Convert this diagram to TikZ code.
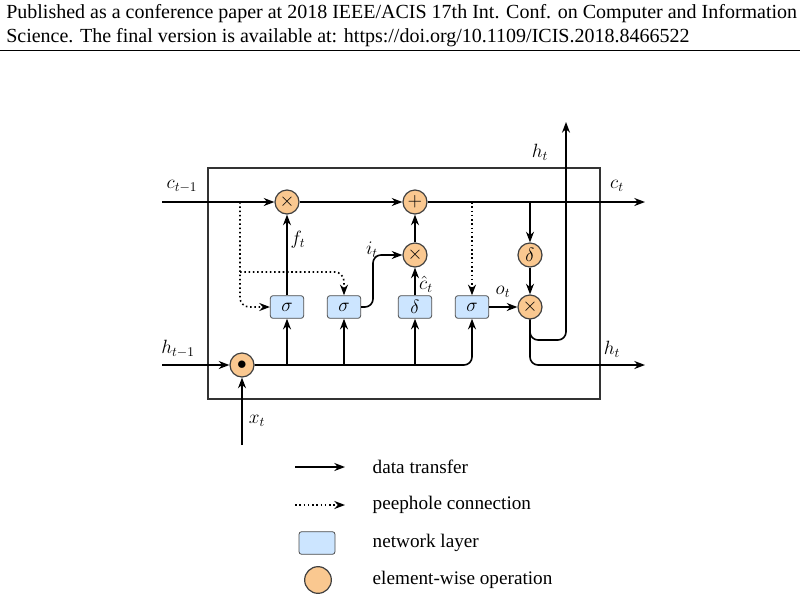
\documentclass[tikz,border=0pt]{standalone}
\usepackage{fontspec}
\setmainfont{Liberation Serif}
\usetikzlibrary{arrows.meta}
\definecolor{opfill}{HTML}{FAC890}
\definecolor{layfill}{HTML}{CCE5FF}
\begin{document}
\begin{tikzpicture}[x=0.75pt,y=-0.75pt,
  op/.style={circle,draw=black!75,fill=opfill,line width=0.9pt,minimum size=18pt,inner sep=0pt,font=\fontsize{15}{15}\selectfont},
  lay/.style={rectangle,rounded corners=2pt,draw=black!70,fill=layfill,line width=0.6pt,minimum width=25pt,minimum height=17pt,inner sep=0pt,font=\fontsize{14}{14}\selectfont},
  dt/.style={line width=1.2pt,-{Stealth[length=8pt,width=6pt]}},
  dtn/.style={line width=1.2pt},
  ph/.style={line width=1.2pt,dotted,-{Stealth[length=8pt,width=6pt,open]}},
  lbl/.style={font=\fontsize{14.4}{16}\selectfont}]
\useasboundingbox (0,0) rectangle (804,601);
\node[anchor=north west,align=left,inner sep=0pt,font=\fontsize{15}{18}\selectfont] (hdr) at (6,4) {Published as a conference paper at 2018 IEEE/ACIS 17th Int. Conf. on Computer and Information\\Science. The final version is available at: https://doi.org/10.1109/ICIS.2018.8466522};
\draw[line width=0.6pt] (0,50) -- (800,50);
\draw[line width=0.8pt,draw=black!80] (208,168) rectangle (600,399);
% nodes
\node[op] (m1) at (287,202) {$\times$};
\node[op] (pl) at (415,202) {$+$};
\node[op] (m2) at (415,255) {$\times$};
\node[op] (dl) at (530,255) {$\delta$};
\node[op] (m3) at (530,307) {$\times$};
\node[op] (dot) at (242,365) {$\bullet$};
\node[lay] (s1) at (287,307) {$\sigma$};
\node[lay] (s2) at (344,307) {$\sigma$};
\node[lay] (d1) at (415,307) {$\delta$};
\node[lay] (s4) at (472,307) {$\sigma$};
\coordinate (cin) at (162,202);
\coordinate (cout) at (645,202);
\coordinate (hin) at (162,365);
\coordinate (hout) at (645,365);
\coordinate (htop) at (566,122);
\coordinate (xin) at (242,445);
% cell line
\draw[dt] (cin) -- (m1);
\draw[dt] (m1) -- (pl);
\draw[dt] (pl) -- (cout);
\draw[dt] (530,202) -- (dl);
\draw[dt] (dl) -- (m3);
\draw[dt] (s1) -- (m1);
\draw[dt] (m2) -- (pl);
\draw[dt] (d1) -- (m2);
\draw[dt,rounded corners=6pt] (s2.east) -- (373,307) -- (373,255) -- (m2.west);
\draw[dt] (s4) -- (m3);
% hidden line
\draw[dt] (hin) -- (dot);
\draw[dt] (xin) -- (dot);
\draw[dtn,rounded corners=6pt] (dot) -- (472,365) -- (472,330);
\draw[dt] (472,335) -- (s4.south);
\draw[dt] (287,365) -- (s1);
\draw[dt] (344,365) -- (s2);
\draw[dt] (415,365) -- (d1);
\draw[dt,rounded corners=6pt] (m3.south) -- (530,365) -- (hout);
\draw[dt,rounded corners=6pt] (m3.south) -- (530,340) -- (566,340) -- (htop);
% peepholes
\draw[ph,rounded corners=7pt] (240,202) -- (240,307) -- (s1.west);
\draw[ph,rounded corners=7pt] (240,272) -- (344,272) -- (s2.north);
\draw[ph] (472,202) -- (s4.north);
% labels
\node[lbl] (lc1) at (182,186) {$c_{t-1}$};
\node[lbl] (lh1) at (178,349) {$h_{t-1}$};
\node[lbl] (lct) at (617,186) {$c_t$};
\node[lbl] (lht) at (612,349) {$h_t$};
\node[lbl] (lhtt) at (540,152) {$h_t$};
\node[lbl] (lf) at (298,240) {$f_t$};
\node[lbl] (li) at (372,250) {$i_t$};
\node[lbl] (lch) at (426,284) {$\hat c_t$};
\node[lbl] (lo) at (503,292) {$o_t$};
\node[lbl] (lx) at (257,421) {$x_t$};
% legend
\coordinate (a1) at (295,467); \coordinate (a2) at (345,467);
\coordinate (b1) at (295,505); \coordinate (b2) at (345,505);
\draw[dt] (a1) -- (a2);
\draw[ph] (b1) -- (b2);
\node[lay,minimum width=27pt,minimum height=17pt] (lg1) at (317,543) {};
\node[op,minimum size=20pt] (lg2) at (318,580) {};
\node[anchor=west,lbl] (t1) at (368,467) {data transfer};
\node[anchor=west,lbl] (t2) at (368,505) {peephole connection};
\node[anchor=west,lbl] (t3) at (368,543) {network layer};
\node[anchor=west,lbl] (t4) at (368,580) {element-wise operation};
\end{tikzpicture}
\end{document}
